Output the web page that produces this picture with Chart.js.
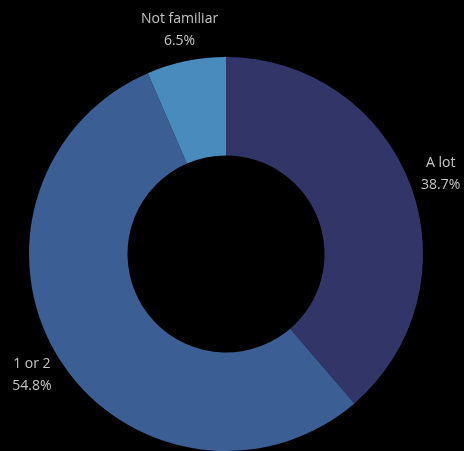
<!DOCTYPE html>
<html>
<head>
<meta charset="utf-8">
<script src="https://cdn.jsdelivr.net/npm/chart.js@4"></script>
<style>
  html, body { margin: 0; padding: 0; background: #000; }
  #wrap { width: 464px; height: 451px; }
</style>
</head>
<body>
<div id="wrap"><canvas id="c" width="464" height="451"></canvas></div>
<script>
const categories = ["A lot", "1 or 2", "Not familiar"];
const shares = [38.7, 54.8, 6.5];
const sliceColors = ["#313567", "#3b5f94", "#4a8bbd"];

// Draws each slice's name and share just outside the ring
const outsideLabels = {
  id: "outsideLabels",
  afterDatasetsDraw(chart) {
    const ctx = chart.ctx;
    const meta = chart.getDatasetMeta(0);
    ctx.save();
    ctx.font = "14px 'Open Sans'";
    ctx.fillStyle = "#c4c4c4";
    ctx.textAlign = "center";
    ctx.textBaseline = "middle";
    meta.data.forEach((arc, i) => {
      const mid = (arc.startAngle + arc.endAngle) / 2;
      const r = arc.outerRadius + 32;
      const x = arc.x + Math.cos(mid) * r;
      const y = arc.y + Math.sin(mid) * r;
      ctx.fillText(categories[i], x, y - 11);
      ctx.fillText(shares[i].toFixed(1) + "%", x, y + 11);
    });
    ctx.restore();
  }
};

new Chart(document.getElementById("c"), {
  type: "doughnut",
  data: {
    labels: categories,
    datasets: [{
      data: shares,
      backgroundColor: sliceColors,
      borderWidth: 0
    }]
  },
  options: {
    responsive: false,
    animation: false,
    cutout: "50%",
    layout: { padding: { left: 28, right: 40, top: 57, bottom: 0 } },
    plugins: {
      legend: { display: false },
      tooltip: { enabled: false }
    }
  },
  plugins: [outsideLabels]
});
</script>
</body>
</html>
